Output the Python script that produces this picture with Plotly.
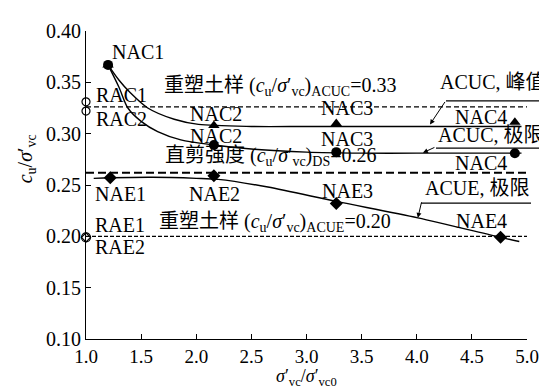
import plotly.graph_objects as go

# ---------------- data ----------------
nac_x = [1.2, 2.16, 3.27, 4.89]
nac_peak = [0.367, 0.308, 0.310, 0.311]
nac_ult = [0.367, 0.289, 0.282, 0.281]
nae_x = [1.22, 2.16, 3.27, 4.76]
nae_ult = [0.257, 0.259, 0.232, 0.199]
rac_x = [1.0, 1.0]
rac_y = [0.331, 0.322]
rae_x = [1.0]
rae_y = [0.199]

# fitted curves
peak_curve_x = [1.2, 1.3, 1.4, 1.56, 1.8, 2.02, 2.5, 3.0, 3.5, 4.0, 4.5, 4.95]
peak_curve_y = [0.367, 0.352, 0.340, 0.325, 0.314, 0.309, 0.307, 0.307, 0.307, 0.307, 0.307, 0.307]
ult_curve_x = [1.2, 1.3, 1.38, 1.5, 1.65, 1.86, 2.16, 2.5, 3.0, 3.5, 4.0, 4.5, 4.95]
ult_curve_y = [0.367, 0.345, 0.325, 0.312, 0.302, 0.294, 0.289, 0.285, 0.282, 0.281, 0.281, 0.281, 0.281]
acue_curve_x = [1.07, 1.22, 1.6, 2.0, 2.2, 2.65, 3.27, 4.01, 4.76, 4.93]
acue_curve_y = [0.2565, 0.257, 0.2575, 0.2565, 0.2555, 0.248, 0.234, 0.218, 0.199, 0.195]

ref_levels = [0.326, 0.262, 0.200]   # remoulded ACUC, direct shear, remoulded ACUE
ref_x = [1.0, 5.0]

x_ticks = [1.0, 1.5, 2.0, 2.5, 3.0, 3.5, 4.0, 4.5, 5.0]
y_ticks = [0.10, 0.15, 0.20, 0.25, 0.30, 0.35, 0.40]

SERIF = "Liberation Serif, Times New Roman, serif"
CJK = "Liberation Serif, Noto Sans CJK SC, serif"
FS = 20
TFS = 20

fig = go.Figure()

line_style = dict(color="black", width=1.4)
for cx, cy in [(peak_curve_x, peak_curve_y), (ult_curve_x, ult_curve_y), (acue_curve_x, acue_curve_y)]:
    fig.add_trace(go.Scatter(x=cx, y=cy, mode="lines",
                             line=dict(shape="spline", smoothing=0.8, **line_style), cliponaxis=False))

dash_styles = [dict(width=1.3, dash="5px,3px"), dict(width=2, dash="8px,4px"), dict(width=1.2, dash="4px,2px")]
for lvl, ds in zip(ref_levels, dash_styles):
    fig.add_trace(go.Scatter(x=ref_x, y=[lvl, lvl], mode="lines",
                             line=dict(color="black", **ds), cliponaxis=False))

fig.add_trace(go.Scatter(x=nac_x, y=nac_ult, mode="markers",
                         marker=dict(symbol="circle", size=10, color="black"), cliponaxis=False))
fig.add_trace(go.Scatter(x=nac_x, y=nac_peak, mode="markers",
                         marker=dict(symbol="triangle-up", size=10, color="black"), cliponaxis=False))
fig.add_trace(go.Scatter(x=nae_x, y=nae_ult, mode="markers",
                         marker=dict(symbol="diamond", size=10, color="black"), cliponaxis=False))
fig.add_trace(go.Scatter(x=rac_x, y=rac_y, mode="markers",
                         marker=dict(symbol="circle-open", size=8, color="black", line=dict(width=1.2)),
                         cliponaxis=False))
fig.add_trace(go.Scatter(x=rae_x, y=rae_y, mode="markers",
                         marker=dict(symbol="circle-open", size=9, color="black", line=dict(width=1.2)),
                         cliponaxis=False))
fig.add_trace(go.Scatter(x=rae_x, y=rae_y, mode="markers",
                         marker=dict(symbol="diamond-open", size=7, color="black", line=dict(width=1.2)),
                         cliponaxis=False))

# ---------------- labels ----------------
SIG = "<i>σ</i>′<sub>vc</sub>"
CU = "<i>c</i><sub>u</sub>"
labels = [
    ("NAC1", 1.468, 0.3794, "center"),
    ("RAC1", 1.07, 0.3375, "left"),
    ("RAC2", 1.07, 0.3147, "left"),
    ("NAC2", 2.176, 0.3194, "center"),
    ("NAC2", 2.176, 0.2976, "center"),
    ("NAC3", 3.366, 0.3247, "center"),
    ("NAC3", 3.366, 0.2952, "center"),
    ("NAC4", 4.583, 0.3165, "center"),
    ("NAC4", 4.583, 0.2714, "center"),
    ("NAE1", 1.06, 0.2415, "left"),
    ("NAE2", 2.167, 0.2415, "center"),
    ("NAE3", 3.375, 0.2444, "center"),
    ("NAE4", 4.583, 0.2149, "center"),
    ("RAE1", 1.06, 0.2111, "left"),
    ("RAE2", 1.06, 0.1892, "left"),
    ("重塑土样 (" + CU + "/" + SIG + ")<sub>ACUC</sub>=0.33", 1.686, 0.346, "left"),
    ("直剪强度 (" + CU + "/" + SIG + ")<sub>DS</sub>=0.26", 1.70, 0.2776, "left"),
    ("重塑土样 (" + CU + "/" + SIG + ")<sub>ACUE</sub>=0.20", 1.64, 0.2130, "left"),
]
for txt, lx, ly, anc in labels:
    fig.add_annotation(x=lx, y=ly, text=txt, showarrow=False, xanchor=anc, yanchor="middle",
                       font=dict(family=CJK, size=FS, color="black"))

# right-side leader labels (paper coordinates, right aligned)
side_labels = [("ACUC, 峰值", 1.048, 0.834), ("ACUC, 极限", 1.044, 0.661), ("ACUE, 极限", 1.009, 0.489)]
for txt, px, py in side_labels:
    fig.add_annotation(xref="paper", yref="paper", x=px, y=py, text=txt, showarrow=False,
                       xanchor="right", yanchor="middle", font=dict(family=CJK, size=FS, color="black"))

# leader arrows
arrows = [(4.12, 0.309, 16, -24), (4.056, 0.2814, 13, -6), (4.01, 0.218, 4, -17)]
for axx, ayy, dx, dy in arrows:
    fig.add_annotation(x=axx, y=ayy, ax=dx, ay=dy, text="", showarrow=True,
                       arrowhead=2, arrowsize=1, arrowwidth=1, arrowcolor="black")

# underlines of leader labels (paper coords)
underlines = [(0.8163, 1.0658, 0.773), (0.7937, 1.0476, 0.620), (0.7596, 1.0091, 0.441)]
for x0, x1, yy in underlines:
    fig.add_shape(type="line", xref="paper", yref="paper", x0=x0, x1=x1, y0=yy, y1=yy,
                  line=dict(color="black", width=1.2))

# axis titles
fig.add_annotation(xref="paper", yref="paper", x=-0.135, y=0.585, text=CU + "/" + SIG,
                   textangle=-90, showarrow=False, xanchor="center", yanchor="middle",
                   font=dict(family=SERIF, size=FS, color="black"))
fig.add_annotation(xref="paper", yref="paper", x=0.5, y=-0.125,
                   text="<i>σ</i>′<sub>vc</sub>/<i>σ</i>′<sub>vc0</sub>",
                   showarrow=False, xanchor="center", yanchor="middle",
                   font=dict(family=SERIF, size=18, color="black"))

fig.update_layout(
    width=547, height=389,
    margin=dict(l=78, r=28, t=18, b=58),
    plot_bgcolor="white", paper_bgcolor="white",
    showlegend=False,
    font=dict(family=SERIF, size=TFS, color="black"),
)
fig.update_xaxes(range=[1.0, 5.0], tickvals=x_ticks, ticktext=[f"{v:.1f}" for v in x_ticks],
                 showline=True, linecolor="black", linewidth=1.2, ticks="inside", ticklen=5,
                 tickcolor="black", showgrid=False, zeroline=False,
                 tickfont=dict(family=SERIF, size=19))
fig.update_yaxes(range=[0.10, 0.40], tickvals=y_ticks, ticktext=[f"{v:.2f}" for v in y_ticks],
                 showline=True, linecolor="black", linewidth=1.2, ticks="inside", ticklen=5,
                 tickcolor="black", showgrid=False, zeroline=False,
                 tickfont=dict(family=SERIF, size=TFS))

fig.write_html("out.html")
